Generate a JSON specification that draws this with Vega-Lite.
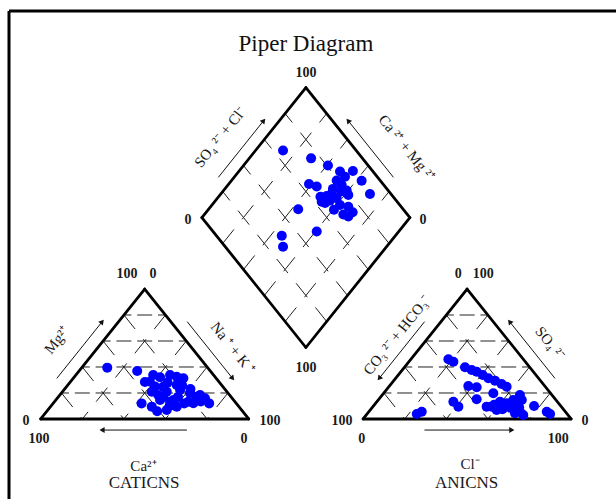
{
  "$schema": "https://vega.github.io/schema/vega-lite/v6.json",
  "width": 607,
  "height": 488,
  "autosize": {"type": "none"},
  "padding": {"left": 9, "top": 11, "right": 0, "bottom": 0},
  "background": "white",
  "config": {"view": {"stroke": "#000", "strokeWidth": 3, "strokeDash": [607, 1095, 488, 0]}},
  "datasets": {
    "outline": [
      {"x": 0, "y": 0, "x2": 100, "y2": 0}, {"x": 0, "y": 0, "x2": 50, "y2": 100}, {"x": 50, "y": 100, "x2": 100, "y2": 0},
      {"x": 155, "y": 0, "x2": 255, "y2": 0}, {"x": 155, "y": 0, "x2": 205, "y2": 100}, {"x": 205, "y": 100, "x2": 255, "y2": 0},
      {"x": 127.5, "y": 55, "x2": 77.5, "y2": 155}, {"x": 77.5, "y": 155, "x2": 127.5, "y2": 255},
      {"x": 127.5, "y": 255, "x2": 177.5, "y2": 155}, {"x": 177.5, "y": 155, "x2": 127.5, "y2": 55}
    ],
    "hgrid": [
      {"x": 10, "y": 20, "x2": 90, "y2": 20}, {"x": 20, "y": 40, "x2": 80, "y2": 40}, {"x": 30, "y": 60, "x2": 70, "y2": 60}, {"x": 40, "y": 80, "x2": 60, "y2": 80},
      {"x": 165, "y": 20, "x2": 245, "y2": 20}, {"x": 175, "y": 40, "x2": 235, "y2": 40}, {"x": 185, "y": 60, "x2": 225, "y2": 60}, {"x": 195, "y": 80, "x2": 215, "y2": 80}
    ],
    "tgrid": [
      {"x": 60, "y": 80, "x2": 20, "y2": 0}, {"x": 70, "y": 60, "x2": 40, "y2": 0}, {"x": 80, "y": 40, "x2": 60, "y2": 0}, {"x": 90, "y": 20, "x2": 80, "y2": 0},
      {"x": 10, "y": 20, "x2": 20, "y2": 0}, {"x": 20, "y": 40, "x2": 40, "y2": 0}, {"x": 30, "y": 60, "x2": 60, "y2": 0}, {"x": 40, "y": 80, "x2": 80, "y2": 0},
      {"x": 215, "y": 80, "x2": 175, "y2": 0}, {"x": 225, "y": 60, "x2": 195, "y2": 0}, {"x": 235, "y": 40, "x2": 215, "y2": 0}, {"x": 245, "y": 20, "x2": 235, "y2": 0},
      {"x": 165, "y": 20, "x2": 175, "y2": 0}, {"x": 175, "y": 40, "x2": 195, "y2": 0}, {"x": 185, "y": 60, "x2": 215, "y2": 0}, {"x": 195, "y": 80, "x2": 235, "y2": 0}
    ],
    "dgrid": [
      {"x": 117.5, "y": 75, "x2": 167.5, "y2": 175}, {"x": 107.5, "y": 95, "x2": 157.5, "y2": 195},
      {"x": 97.5, "y": 115, "x2": 147.5, "y2": 215}, {"x": 87.5, "y": 135, "x2": 137.5, "y2": 235},
      {"x": 137.5, "y": 75, "x2": 87.5, "y2": 175}, {"x": 147.5, "y": 95, "x2": 97.5, "y2": 195},
      {"x": 157.5, "y": 115, "x2": 107.5, "y2": 215}, {"x": 167.5, "y": 135, "x2": 117.5, "y2": 235}
    ],
    "arrows": [
      {"x": 7.75, "y": 31.25, "x2": 29.55, "y2": 74.85, "a": 38.7},
      {"x": 70.45, "y": 74.85, "x2": 92.25, "y2": 31.25, "a": 141.3},
      {"x": 70.3, "y": -8.5, "x2": 29.5, "y2": -8.5, "a": 270},
      {"x": 184.55, "y": 74.85, "x2": 162.75, "y2": 31.25, "a": 218.7},
      {"x": 247.25, "y": 31.25, "x2": 225.45, "y2": 74.85, "a": 321.3},
      {"x": 184.5, "y": -8.5, "x2": 226.5, "y2": -8.5, "a": 90},
      {"x": 85.4, "y": 185.9, "x2": 107.2, "y2": 229.5, "a": 38.7},
      {"x": 169.6, "y": 185.9, "x2": 147.8, "y2": 229.5, "a": 321.3}
    ],
    "pts": [
      {"plot": "diamond", "x": 116.5, "y": 206.5}, {"plot": "diamond", "x": 130.0, "y": 200.5}, {"plot": "diamond", "x": 138.1, "y": 195.0},
      {"plot": "diamond", "x": 143.9, "y": 190.4}, {"plot": "diamond", "x": 150.1, "y": 190.8}, {"plot": "diamond", "x": 146.3, "y": 186.4},
      {"plot": "diamond", "x": 142.3, "y": 183.5}, {"plot": "diamond", "x": 144.7, "y": 180.0}, {"plot": "diamond", "x": 154.3, "y": 183.3},
      {"plot": "diamond", "x": 129.0, "y": 180.8}, {"plot": "diamond", "x": 132.7, "y": 178.8}, {"plot": "diamond", "x": 158.3, "y": 173.1},
      {"plot": "diamond", "x": 147.1, "y": 175.8}, {"plot": "diamond", "x": 147.9, "y": 172.3}, {"plot": "diamond", "x": 137.5, "y": 171.5},
      {"plot": "diamond", "x": 135.1, "y": 167.2}, {"plot": "diamond", "x": 139.9, "y": 173.5}, {"plot": "diamond", "x": 136.7, "y": 166.2},
      {"plot": "diamond", "x": 142.3, "y": 169.8}, {"plot": "diamond", "x": 143.9, "y": 164.6}, {"plot": "diamond", "x": 147.9, "y": 163.3},
      {"plot": "diamond", "x": 145.5, "y": 157.3}, {"plot": "diamond", "x": 147.9, "y": 155.8}, {"plot": "diamond", "x": 123.8, "y": 161.3},
      {"plot": "diamond", "x": 132.7, "y": 144.2}, {"plot": "diamond", "x": 115.9, "y": 140.9}, {"plot": "diamond", "x": 116.5, "y": 132.5},
      {"plot": "diamond", "x": 140.5, "y": 177.0}, {"plot": "diamond", "x": 144.5, "y": 175.0}, {"plot": "diamond", "x": 139.0, "y": 168.0},
      {"plot": "diamond", "x": 141.0, "y": 161.0}, {"plot": "diamond", "x": 150.0, "y": 159.0}, {"plot": "diamond", "x": 134.5, "y": 171.0},
      {"plot": "cation", "x": 32.0, "y": 39.5}, {"plot": "cation", "x": 46.4, "y": 36.9}, {"plot": "cation", "x": 52.5, "y": 28.7},
      {"plot": "cation", "x": 57.4, "y": 32.1}, {"plot": "cation", "x": 62.2, "y": 33.8}, {"plot": "cation", "x": 68.6, "y": 31.3},
      {"plot": "cation", "x": 58.9, "y": 24.8}, {"plot": "cation", "x": 65.4, "y": 26.2}, {"plot": "cation", "x": 53.4, "y": 21.0},
      {"plot": "cation", "x": 60.6, "y": 21.0}, {"plot": "cation", "x": 67.0, "y": 22.3}, {"plot": "cation", "x": 71.8, "y": 19.8},
      {"plot": "cation", "x": 75.0, "y": 17.2}, {"plot": "cation", "x": 79.0, "y": 15.9}, {"plot": "cation", "x": 71.0, "y": 13.3},
      {"plot": "cation", "x": 63.8, "y": 14.6}, {"plot": "cation", "x": 57.4, "y": 14.6}, {"plot": "cation", "x": 53.4, "y": 9.5},
      {"plot": "cation", "x": 60.6, "y": 6.9}, {"plot": "cation", "x": 65.4, "y": 9.5}, {"plot": "cation", "x": 73.4, "y": 12.1},
      {"plot": "cation", "x": 56.5, "y": 18.5}, {"plot": "cation", "x": 50.1, "y": 28.5}, {"plot": "cation", "x": 54.1, "y": 33.8},
      {"plot": "cation", "x": 65.4, "y": 32.5}, {"plot": "cation", "x": 76.6, "y": 18.5}, {"plot": "cation", "x": 62.2, "y": 13.3},
      {"plot": "cation", "x": 55.0, "y": 25.0}, {"plot": "cation", "x": 61.0, "y": 28.0}, {"plot": "cation", "x": 68.0, "y": 26.0},
      {"plot": "cation", "x": 72.0, "y": 23.0}, {"plot": "cation", "x": 59.0, "y": 17.0}, {"plot": "cation", "x": 66.0, "y": 17.0},
      {"plot": "cation", "x": 69.0, "y": 12.0}, {"plot": "cation", "x": 77.0, "y": 13.5}, {"plot": "cation", "x": 62.0, "y": 10.0},
      {"plot": "cation", "x": 56.0, "y": 6.0}, {"plot": "cation", "x": 81.0, "y": 12.0}, {"plot": "cation", "x": 48.5, "y": 12.0},
      {"plot": "anion", "x": 196.0, "y": 45.9}, {"plot": "anion", "x": 198.4, "y": 44.1}, {"plot": "anion", "x": 204.0, "y": 39.8},
      {"plot": "anion", "x": 207.2, "y": 37.7}, {"plot": "anion", "x": 209.6, "y": 36.4}, {"plot": "anion", "x": 215.2, "y": 31.3},
      {"plot": "anion", "x": 218.4, "y": 29.5}, {"plot": "anion", "x": 221.6, "y": 26.9}, {"plot": "anion", "x": 224.0, "y": 24.8},
      {"plot": "anion", "x": 205.6, "y": 25.4}, {"plot": "anion", "x": 209.6, "y": 24.4}, {"plot": "anion", "x": 217.6, "y": 19.8},
      {"plot": "anion", "x": 209.6, "y": 15.2}, {"plot": "anion", "x": 198.4, "y": 13.3}, {"plot": "anion", "x": 200.8, "y": 9.5},
      {"plot": "anion", "x": 230.4, "y": 18.5}, {"plot": "anion", "x": 231.3, "y": 14.6}, {"plot": "anion", "x": 227.2, "y": 14.6},
      {"plot": "anion", "x": 224.0, "y": 12.1}, {"plot": "anion", "x": 220.8, "y": 13.3}, {"plot": "anion", "x": 216.8, "y": 9.5},
      {"plot": "anion", "x": 219.2, "y": 6.9}, {"plot": "anion", "x": 214.4, "y": 9.5}, {"plot": "anion", "x": 228.8, "y": 9.5},
      {"plot": "anion", "x": 230.4, "y": 5.6}, {"plot": "anion", "x": 232.0, "y": 3.1}, {"plot": "anion", "x": 228.0, "y": 4.4},
      {"plot": "anion", "x": 237.2, "y": 10.0}, {"plot": "anion", "x": 243.3, "y": 5.6}, {"plot": "anion", "x": 244.9, "y": 3.8},
      {"plot": "anion", "x": 183.2, "y": 5.6}, {"plot": "anion", "x": 180.8, "y": 3.8},
      {"plot": "anion", "x": 226.0, "y": 8.5}, {"plot": "anion", "x": 222.0, "y": 7.5}, {"plot": "anion", "x": 218.0, "y": 11.0},
      {"plot": "anion", "x": 230.0, "y": 9.0}, {"plot": "anion", "x": 212.5, "y": 33.8}
    ],
    "nums": [
      {"t": "100", "x": 127.5, "y": 266.2}, {"t": "0", "x": 70.8, "y": 153.1}, {"t": "0", "x": 183.8, "y": 153.1}, {"t": "100", "x": 127.5, "y": 39.2},
      {"t": "100", "x": 41.5, "y": 111.5}, {"t": "0", "x": 54.0, "y": 111.5}, {"t": "0", "x": -7.1, "y": -1.3}, {"t": "100", "x": -0.8, "y": -15.6},
      {"t": "100", "x": 110.2, "y": -1.3}, {"t": "0", "x": 97.7, "y": -15.6},
      {"t": "100", "x": 144.8, "y": -1.3}, {"t": "0", "x": 154.3, "y": -15.6}, {"t": "0", "x": 200.8, "y": 111.5}, {"t": "100", "x": 212.8, "y": 111.5},
      {"t": "0", "x": 261.7, "y": -1.3}, {"t": "100", "x": 248.8, "y": -15.6}
    ],
    "ions": [
      {"t": "Mg²⁺", "x": 7.7, "y": 60.8, "a": -51.3},
      {"t": "Na ⁺ + K ⁺", "x": 92.5, "y": 54.6, "a": 51.3},
      {"t": "SO₄ ²⁻ + Cl⁻", "x": 86.2, "y": 216.9, "a": -51.3},
      {"t": "Ca ²⁺ + Mg ²⁺", "x": 176.0, "y": 208.5, "a": 51.3},
      {"t": "CO₃ ²⁻ + HCO₃⁻", "x": 171.2, "y": 64.6, "a": -51.3},
      {"t": "SO₄ ²⁻", "x": 244.9, "y": 58.5, "a": 51.3},
      {"t": "Ca²⁺", "x": 49.4, "y": -36.2, "a": 0},
      {"t": "Cl⁻", "x": 206.4, "y": -34.5, "a": 0}
    ],
    "groups": [
      {"t": "CATICNS", "x": 49.7, "y": -49.2},
      {"t": "ANICNS", "x": 204.8, "y": -49.2}
    ],
    "title": [
      {"t": "Piper Diagram", "x": 127.5, "y": 288.5}
    ]
  },
  "encoding": {
    "x": {"field": "x", "type": "quantitative", "scale": {"domain": [-15.24, 276.59], "nice": false, "zero": false}, "axis": null},
    "y": {"field": "y", "type": "quantitative", "scale": {"domain": [-61.54, 313.85], "nice": false, "zero": false}, "axis": null}
  },
  "layer": [
    {
      "data": {"name": "hgrid"},
      "mark": {"type": "rule", "color": "#222", "strokeWidth": 1, "strokeDash": [15, 5.8], "strokeDashOffset": 7.5},
      "encoding": {"x2": {"field": "x2"}, "y2": {"field": "y2"}}
    },
    {
      "data": {"name": "tgrid"},
      "mark": {"type": "rule", "color": "#222", "strokeWidth": 1, "strokeDash": [18, 13]},
      "encoding": {"x2": {"field": "x2"}, "y2": {"field": "y2"}}
    },
    {
      "data": {"name": "dgrid"},
      "mark": {"type": "rule", "color": "#222", "strokeWidth": 1, "strokeDash": [18, 13]},
      "encoding": {"x2": {"field": "x2"}, "y2": {"field": "y2"}}
    },
    {
      "data": {"name": "outline"},
      "mark": {"type": "rule", "color": "#000", "strokeWidth": 2.8, "strokeCap": "round"},
      "encoding": {"x2": {"field": "x2"}, "y2": {"field": "y2"}}
    },
    {
      "data": {"name": "arrows"},
      "mark": {"type": "rule", "color": "#111", "strokeWidth": 1},
      "encoding": {"x2": {"field": "x2"}, "y2": {"field": "y2"}}
    },
    {
      "data": {"name": "arrows"},
      "mark": {"type": "point", "shape": "triangle-up", "filled": true, "color": "#111", "size": 35, "opacity": 1},
      "encoding": {
        "x": {"field": "x2", "type": "quantitative"},
        "y": {"field": "y2", "type": "quantitative"},
        "angle": {"field": "a", "type": "quantitative", "scale": null}
      }
    },
    {
      "data": {"name": "pts"},
      "mark": {"type": "circle", "color": "#0000ff", "size": 100, "opacity": 1}
    },
    {
      "data": {"name": "nums"},
      "mark": {"type": "text", "font": "Liberation Serif", "fontSize": 14, "fontWeight": "bold", "color": "#1a1a1a", "align": "center", "baseline": "middle"},
      "encoding": {"text": {"field": "t"}}
    },
    {
      "data": {"name": "ions"},
      "mark": {"type": "text", "font": "Liberation Serif", "fontSize": 15, "color": "#1a1a1a", "align": "center", "baseline": "middle"},
      "encoding": {"text": {"field": "t"}, "angle": {"field": "a", "type": "quantitative", "scale": null}}
    },
    {
      "data": {"name": "groups"},
      "mark": {"type": "text", "font": "Liberation Serif", "fontSize": 17, "color": "#1a1a1a", "align": "center", "baseline": "middle"},
      "encoding": {"text": {"field": "t"}}
    },
    {
      "data": {"name": "title"},
      "mark": {"type": "text", "font": "Liberation Serif", "fontSize": 23, "color": "#111", "align": "center", "baseline": "middle"},
      "encoding": {"text": {"field": "t"}}
    }
  ]
}
